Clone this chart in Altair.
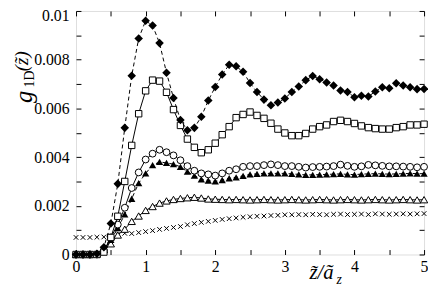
import altair as alt
import pandas as pd

X = [0.0, 0.1, 0.2, 0.3, 0.4, 0.5, 0.6, 0.7, 0.8, 0.9,
     1.0, 1.1, 1.2, 1.3, 1.4, 1.5, 1.6, 1.7, 1.8, 1.9,
     2.0, 2.1, 2.2, 2.3, 2.4, 2.5, 2.6, 2.7, 2.8, 2.9,
     3.0, 3.1, 3.2, 3.3, 3.4, 3.5, 3.6, 3.7, 3.8, 3.9,
     4.0, 4.1, 4.2, 4.3, 4.4, 4.5, 4.6, 4.7, 4.8, 4.9, 5.0]

DIAMOND = [0.0, 0.0, 0.0, 0.00003, 0.0003, 0.00127, 0.0029, 0.0052, 0.00734, 0.00887,
           0.0096, 0.0094, 0.00868, 0.00746, 0.00643, 0.00552, 0.0051, 0.0052, 0.00566, 0.00632,
           0.00688, 0.00739, 0.00779, 0.00773, 0.0075, 0.00704, 0.00667, 0.00636, 0.00613, 0.00624,
           0.00641, 0.00667, 0.0069, 0.00716, 0.00733, 0.0072, 0.00706, 0.00694, 0.00673, 0.00667,
           0.00646, 0.00652, 0.00649, 0.00669, 0.00687, 0.00683, 0.00703, 0.00694, 0.00687, 0.00679, 0.0068]

SQUARE = [0.0, 0.0, 0.0, 0.0, 0.0001, 0.0007, 0.00157, 0.003, 0.00448, 0.00578,
          0.00672, 0.00716, 0.00712, 0.00666, 0.00595, 0.0053, 0.00474, 0.0044, 0.00418, 0.0043,
          0.00457, 0.00492, 0.00525, 0.00562, 0.00575, 0.00585, 0.00571, 0.00559, 0.00539, 0.00515,
          0.00499, 0.00488, 0.00488, 0.00497, 0.00515, 0.00525, 0.00532, 0.00546, 0.00551, 0.00546,
          0.00538, 0.00528, 0.00521, 0.00517, 0.00515, 0.00515, 0.00521, 0.00525, 0.00532, 0.00532, 0.00535]

CIRCLE = [0.0, 0.0, 0.0, 0.0, 0.00015, 0.0007, 0.00123, 0.00192, 0.00273, 0.00337,
          0.0039, 0.00414, 0.0043, 0.0042, 0.00407, 0.00387, 0.00363, 0.00344, 0.00333, 0.00329,
          0.00324, 0.00333, 0.00344, 0.0035, 0.0036, 0.00363, 0.00363, 0.00367, 0.0037, 0.00367,
          0.00363, 0.00363, 0.0036, 0.00357, 0.00359, 0.0036, 0.00361, 0.00363, 0.00369, 0.00364,
          0.0036, 0.00362, 0.00368, 0.00366, 0.00364, 0.00362, 0.00362, 0.00361, 0.0036, 0.00358, 0.0036]

TRI_FILLED = [0.0, 0.0, 0.0, 0.0, 0.0002, 0.0006, 0.00108, 0.00165, 0.00229, 0.00293,
              0.00333, 0.00367, 0.0038, 0.00376, 0.00371, 0.0036, 0.0034, 0.00324, 0.00309, 0.00304,
              0.003, 0.00306, 0.00313, 0.00317, 0.00323, 0.00329, 0.00331, 0.00333, 0.00333, 0.00333,
              0.00333, 0.00331, 0.00329, 0.00327, 0.00327, 0.00328, 0.00329, 0.0033, 0.00331, 0.00329,
              0.00328, 0.0033, 0.00331, 0.00332, 0.00331, 0.0033, 0.00331, 0.00332, 0.00333, 0.00332, 0.00332]

TRI_OPEN = [0.0, 0.0, 0.0, 0.00003, 0.0002, 0.00044, 0.0008, 0.00104, 0.00136, 0.00158,
            0.00181, 0.00197, 0.00211, 0.0022, 0.00226, 0.0023, 0.00233, 0.00235, 0.00232, 0.00228,
            0.00227, 0.00226, 0.00225, 0.00226, 0.00225, 0.00224, 0.00225, 0.00226, 0.00225, 0.00224,
            0.00225, 0.00226, 0.00225, 0.00224, 0.00225, 0.00226, 0.00225, 0.00224, 0.00225, 0.00226,
            0.00225, 0.00224, 0.00225, 0.00226, 0.00225, 0.00224, 0.00225, 0.00226, 0.00225, 0.00224, 0.00225]

CROSS = [0.0007, 0.0007, 0.0007, 0.00071, 0.00072, 0.00076, 0.00082, 0.00087, 0.00086, 0.0009,
         0.00094, 0.00098, 0.00103, 0.00107, 0.00111, 0.00115, 0.00122, 0.00127, 0.00132, 0.00136,
         0.0014, 0.00144, 0.00147, 0.0015, 0.00153, 0.00155, 0.00157, 0.00158, 0.0016, 0.00161,
         0.00163, 0.00163, 0.00164, 0.00163, 0.00165, 0.00164, 0.00163, 0.00165, 0.00166, 0.00164,
         0.00165, 0.00166, 0.00164, 0.00167, 0.00166, 0.00165, 0.00166, 0.00167, 0.00166, 0.00167, 0.00168]

X_TICKS = [0, 0.5, 1, 1.5, 2, 2.5, 3, 3.5, 4, 4.5, 5]
Y_TICKS = [0, 0.001, 0.002, 0.003, 0.004, 0.005, 0.006, 0.007, 0.008, 0.009, 0.01]

FONT = "Liberation Serif, Times New Roman, serif"
xs = alt.Scale(domain=[0, 5], nice=False, zero=False)
ys = alt.Scale(domain=[0, 0.01], nice=False)

CROSS_PATH = "M-1,-1L1,1M-1,1L1,-1"

# (values, shape, filled, size, line dash, draw line)
SERIES = [
    (CROSS, CROSS_PATH, False, 22, None, False),
    (TRI_OPEN, "triangle-up", False, 55, [], True),
    (TRI_FILLED, "triangle-up", True, 55, [4, 3], True),
    (CIRCLE, "circle", False, 48, [], True),
    (SQUARE, "square", False, 42, [], True),
    (DIAMOND, "diamond", True, 75, [4, 3], True),
]

layers = []
for vals, shape, filled, size, dash, has_line in SERIES:
    df = pd.DataFrame({"x": X, "y": vals})
    enc = dict(x=alt.X("x:Q", scale=xs, axis=None), y=alt.Y("y:Q", scale=ys, axis=None))
    if has_line:
        layers.append(alt.Chart(df).mark_line(color="black", strokeWidth=1, strokeDash=dash).encode(**enc))
    if filled:
        pt = alt.Chart(df).mark_point(shape=shape, filled=True, color="black", size=size, opacity=1)
    else:
        pt = alt.Chart(df).mark_point(shape=shape, stroke="black", fill="white", fillOpacity=1,
                                      strokeWidth=1, size=size, opacity=1)
    layers.append(pt.encode(**enc))

axdf = pd.DataFrame({"x": X, "y": DIAMOND})
xlab = "datum.value % 1 == 0 ? format(datum.value, 'd') : ''"
ylab = "round(datum.value * 1000) % 2 == 0 ? (datum.value == 0 ? '0' : format(datum.value, '.3~f')) : ''"

main_axes = alt.Chart(axdf).mark_point(opacity=0).encode(
    x=alt.X("x:Q", scale=xs, axis=alt.Axis(orient="bottom", values=X_TICKS, labelExpr=xlab, title=None,
                                           domain=False, offset=-5, tickSize=5, tickColor="black",
                                           labelPadding=4, labelFont=FONT, labelFontSize=16,
                                           labelColor="black", grid=False, labelFlush=False)),
    y=alt.Y("y:Q", scale=ys, axis=alt.Axis(orient="left", values=Y_TICKS, labelExpr=ylab, title=None,
                                           domain=False, offset=-5, tickSize=5, tickColor="black",
                                           labelPadding=7, labelFont=FONT, labelFontSize=16,
                                           labelColor="black", grid=False, labelFlush=False,
                                           labelOffset=alt.ExprRef("datum.value == 0.01 ? 5 : 0"))),
)
mirror_axes = alt.Chart(axdf).mark_point(opacity=0).encode(
    x=alt.X("x:Q", scale=xs, axis=alt.Axis(orient="top", values=X_TICKS, labels=False, title=None,
                                           domain=False, offset=-5, tickSize=5, tickColor="black", grid=False)),
    y=alt.Y("y:Q", scale=ys, axis=alt.Axis(orient="right", values=Y_TICKS, labels=False, title=None,
                                           domain=False, offset=-5, tickSize=5, tickColor="black", grid=False)),
)

# axis titles as text (plot origin is at page (77, 9))
def txt(text, px, py, size, style="normal", angle=0, align="center"):
    return alt.Chart(pd.DataFrame({"t": [text]})).mark_text(
        font=FONT, fontSize=size, fontStyle=style, angle=angle, align=align,
        baseline="middle", color="black").encode(
        x=alt.value(px - 77), y=alt.value(py - 9), text="t:N")

titles = [
    txt("z\u0303/a\u0303", 326, 275, 21, "italic"),
    txt("z", 344, 282, 14, "italic"),
    txt("g", 24, 96, 25, "italic", angle=270),
    txt("1D", 30, 78, 14, "normal", angle=270),
    txt("(z\u0303)", 22, 60, 19, "italic", angle=270),
]

chart = alt.layer(main_axes, mirror_axes, *layers, *titles).resolve_axis(
    x="independent", y="independent"
).properties(
    width=353, height=247,
    autosize=alt.AutoSizeParams(type="none"),
    padding={"left": 69, "top": 1, "right": 4, "bottom": 34},
).configure_view(stroke="black", strokeWidth=1.3).configure(background="white")

chart.save("out.html", embed_options={"renderer": "svg", "actions": False})
